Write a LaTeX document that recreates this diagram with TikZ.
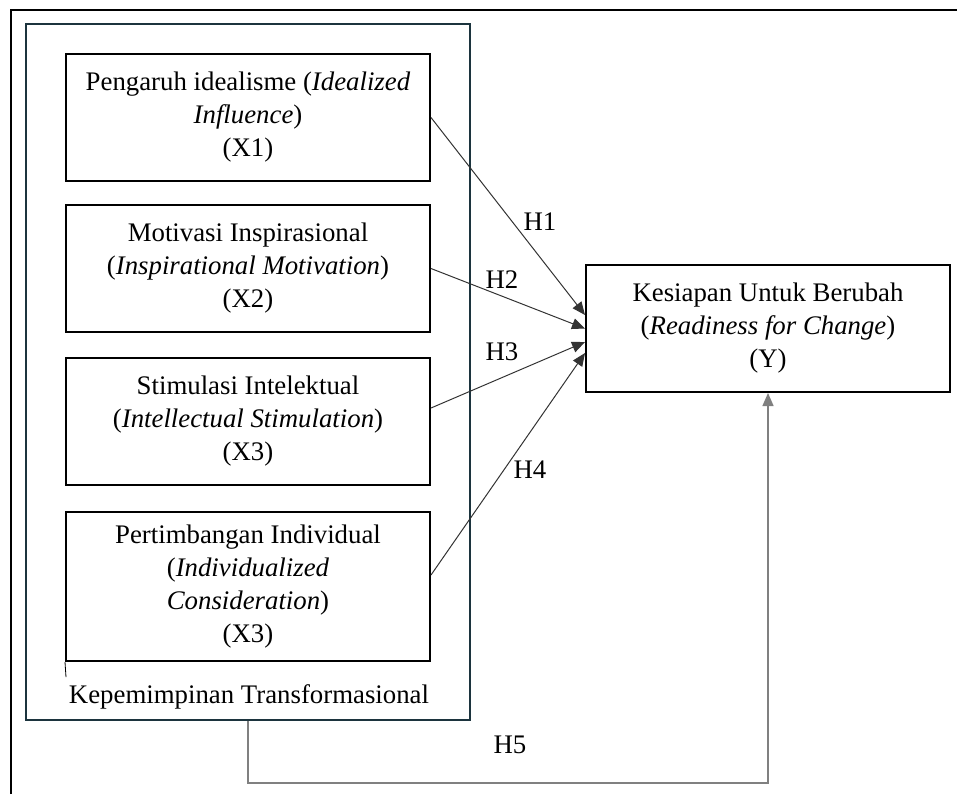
\documentclass[tikz,border=0pt]{standalone}
\usepackage{fontspec}
\setmainfont{Liberation Serif}
\usepackage{xcolor}
\usetikzlibrary{arrows.meta, positioning, calc}
\definecolor{frameteal}{RGB}{28,52,62}

\begin{document}
\begin{tikzpicture}[
  x=0.5pt, y=-0.5pt,
  font=\fontsize{13.4}{16.5}\selectfont,
  var/.style={draw, line width=1pt, align=center, inner sep=0pt,
              minimum width=182pt, minimum height=63.5pt},
  grp/.style={draw=frameteal, line width=1pt, minimum width=222pt,
              minimum height=348pt, inner sep=0pt},
  ar/.style={-{Triangle[length=6.5pt,width=5.5pt]}, line width=0.5pt, draw=black!80},
  arh/.style={-{Triangle[length=6.5pt,width=5.5pt]}, line width=0.7pt, draw=black!50},
  hyp/.style={inner sep=0pt}
]
\useasboundingbox (0,0) rectangle (957,794);
% outer frame (top and left edges only)
\draw[line width=1pt] (11,794) -- (11,10) -- (957,10);
\node[grp] (frame) at (248,372) {};
\node[var] (x1) at (248,117.5) {Pengaruh idealisme (\textit{Idealized}\\\textit{Influence})\\(X1)};
\node[var] (x2) at (248,268.5) {Motivasi Inspirasional\\(\textit{Inspirational Motivation})\\(X2)};
\node[var] (x3) at (248,421.5) {Stimulasi Intelektual\\(\textit{Intellectual Stimulation})\\(X3)};
\node[var, minimum height=74.5pt] (x4) at (248,586.5)
  {Pertimbangan Individual\\(\textit{Individualized}\\\textit{Consideration})\\(X3)};
\node[var] (y) at (768,328.5) {Kesiapan Untuk Berubah\\(\textit{Readiness for Change})\\(Y)};
\node[inner sep=0pt] (kt) at (249,697) {Kepemimpinan Transformasional};
\coordinate (tick) at (66,677);
\draw[line width=0.4pt] (x4.south west) -- (tick);
% hypothesis paths
\draw[ar] (x1.east) -- ([yshift=6.75pt]y.west);
\draw[ar] (x2.east) -- (y.west);
\draw[ar] ([yshift=6.75pt]x3.east) -- ([yshift=-6.75pt]y.west);
\draw[ar] ([yshift=5.75pt]x4.east) -- ([yshift=-12.25pt]y.west);
\draw[arh] (frame.south) -- ++(0,62) -| (y.south);
\node[hyp] (h1) at (540,222) {H1};
\node[hyp] (h2) at (502,280) {H2};
\node[hyp] (h3) at (502,352) {H3};
\node[hyp] (h4) at (530,470) {H4};
\node[hyp] (h5) at (510,745) {H5};
\end{tikzpicture}
\end{document}
